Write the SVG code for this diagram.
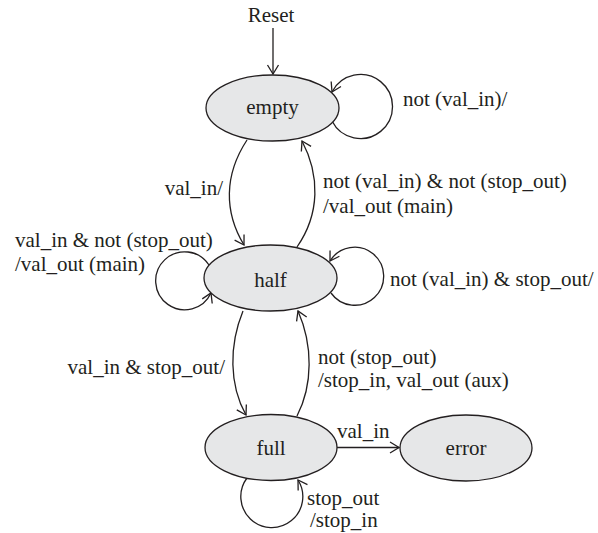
<svg xmlns="http://www.w3.org/2000/svg" width="598" height="533" viewBox="0 0 598 533">
<style>
.node ellipse{fill:#e6e7e8;stroke:#231f20;stroke-width:1.3}
text{font-family:"Liberation Serif","Times New Roman",serif;font-size:21px;fill:#231f20}
.c{text-anchor:middle}
.e{text-anchor:end}
.edge{fill:none;stroke:#231f20;stroke-width:1.3;marker-end:url(#arr)}
</style>
<defs>
<marker id="arr" markerUnits="userSpaceOnUse" markerWidth="20" markerHeight="20" viewBox="-12 -10 14 20" refX="0" refY="0" orient="auto">
<path d="M -9 -5.5 L 0 0 L -9 5.5" fill="none" stroke="#231f20" stroke-width="1.3"/>
</marker>
</defs>
<g id="connectors">
<path class="edge" d="M 273 28 L 273 74"/>
<path class="edge" d="M 332 121 A 32 32 0 1 0 332 92"/>
<path class="edge" d="M 247 140 C 224 175, 224 212, 244 245"/>
<path class="edge" d="M 297 247 C 320 214, 320 175, 302 141"/>
<path class="edge" d="M 209 265 A 29 29 0 1 0 211 293"/>
<path class="edge" d="M 331 293 A 29 29 0 1 0 330 261"/>
<path class="edge" d="M 243 311 C 229 345, 229 385, 246 415"/>
<path class="edge" d="M 297 416 C 313 385, 313 345, 298 311"/>
<path class="edge" d="M 247 478 A 31 31 0 1 0 298 480"/>
<path class="edge" d="M 337 447.5 L 399 447.5"/>
</g>
<g id="empty" class="node"><ellipse cx="272.5" cy="108" rx="66.5" ry="33"/><text class="c" x="272.5" y="114">empty</text></g>
<g id="half" class="node"><ellipse cx="270.5" cy="278" rx="66.5" ry="33"/><text class="c" x="270.5" y="287">half</text></g>
<g id="full" class="node"><ellipse cx="271" cy="447.5" rx="66" ry="33"/><text class="c" x="271" y="455">full</text></g>
<g id="error" class="node"><ellipse cx="466" cy="448" rx="66" ry="33"/><text class="c" x="466" y="455">error</text></g>
<g id="labels">
<text class="c" x="271" y="22">Reset</text>
<text x="403" y="106">not (val_in)/</text>
<text class="e" x="223" y="195">val_in/</text>
<text x="323" y="188">not (val_in) &amp; not (stop_out)</text>
<text x="323" y="213">/val_out (main)</text>
<text x="15" y="247">val_in &amp; not (stop_out)</text>
<text x="15" y="271">/val_out (main)</text>
<text x="390" y="286">not (val_in) &amp; stop_out/</text>
<text class="e" x="225" y="374">val_in &amp; stop_out/</text>
<text x="318" y="364">not (stop_out)</text>
<text x="318" y="387">/stop_in, val_out (aux)</text>
<text x="337" y="438">val_in</text>
<text x="307" y="505">stop_out</text>
<text x="310" y="527">/stop_in</text>
</g>
</svg>
